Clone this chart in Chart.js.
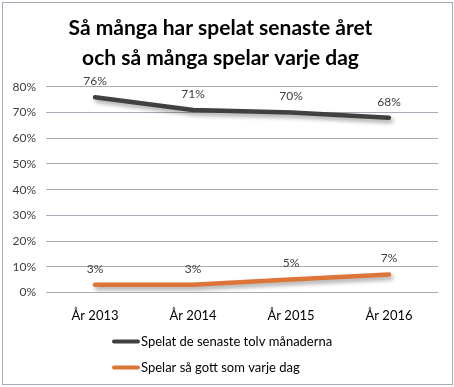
<!DOCTYPE html>
<html>
<head>
<meta charset="utf-8">
<script src="https://cdn.jsdelivr.net/npm/chart.js@4"></script>
<style>
  html, body { margin: 0; padding: 0; background: #fff; }
  #frame {
    position: absolute; left: 2px; top: 2px;
    width: 449px; height: 381px;
    border: 1px solid #a3abb6; background: #fff;
  }
  canvas { display: block; }
</style>
</head>
<body>
<div id="frame"><canvas id="chart" width="449" height="381"></canvas></div>
<script>
// chart values
const years = ['År 2013', 'År 2014', 'År 2015', 'År 2016'];
const spelatTolvManader = [76, 71, 70, 68];
const spelarVarjeDag = [3, 3, 5, 7];
const seriesNames = ['Spelat de senaste tolv månaderna', 'Spelar så gott som varje dag'];
const titleLines = ['Så många har spelat senaste året', 'och så många spelar varje dag'];

const FONT = 'Lato, "Open Sans", sans-serif';

// shadow under lines + value labels above points + stacked legend below axis
const excelLook = {
    id: 'excelLook',
    beforeDatasetsDraw(chart) {
        const ctx = chart.ctx;
        ctx.save();
        ctx.shadowColor = 'rgba(0,0,0,0.35)';
        ctx.shadowBlur = 4;
        ctx.shadowOffsetX = 2;
        ctx.shadowOffsetY = 3;
    },
    afterDatasetsDraw(chart) {
        const ctx = chart.ctx;
        ctx.restore();
        ctx.save();
        ctx.font = '12px ' + FONT;
        ctx.fillStyle = '#404040';
        ctx.textAlign = 'center';
        ctx.textBaseline = 'middle';
        chart.data.datasets.forEach((ds, i) => {
            chart.getDatasetMeta(i).data.forEach((pt, j) => {
                ctx.fillText(ds.data[j] + '%', pt.x, pt.y - 16);
            });
        });
        ctx.restore();
    },
    afterDraw(chart) {
        const ctx = chart.ctx;
        const x0 = 109, y0 = chart.chartArea.bottom + 49;
        ctx.save();
        ctx.font = '13px ' + FONT;
        ctx.textBaseline = 'middle';
        chart.data.datasets.forEach((ds, i) => {
            const y = y0 + i * 26;
            ctx.strokeStyle = ds.borderColor;
            ctx.lineWidth = 4;
            ctx.lineCap = 'round';
            ctx.beginPath();
            ctx.moveTo(x0 + 2, y);
            ctx.lineTo(x0 + 26, y);
            ctx.stroke();
            ctx.fillStyle = '#000';
            ctx.fillText(ds.label, x0 + 29, y);
        });
        ctx.restore();
    }
};

new Chart(document.getElementById('chart'), {
    type: 'line',
    data: {
        labels: years,
        datasets: [
            {
                label: seriesNames[0],
                data: spelatTolvManader,
                borderColor: '#404040',
            },
            {
                label: seriesNames[1],
                data: spelarVarjeDag,
                borderColor: '#dd7438',
            },
        ],
    },
    options: {
        responsive: false,
        animation: false,
        layout: { padding: { left: 0, right: 14, top: 0, bottom: 52 } },
        elements: {
            line: { borderWidth: 4.5, borderCapStyle: 'round', tension: 0 },
            point: { radius: 0, hoverRadius: 0 },
        },
        plugins: {
            legend: { display: false },
            tooltip: { enabled: false },
            title: {
                display: true,
                text: titleLines,
                color: '#000',
                font: { family: FONT, size: 21, weight: 'bold', lineHeight: 1.45 },
                padding: { top: 10, bottom: 13 },
            },
        },
        scales: {
            x: {
                offset: true,
                grid: { display: false },
                border: { display: false },
                ticks: { color: '#000', font: { family: FONT, size: 13 }, padding: 8 },
            },
            y: {
                min: 0,
                max: 80,
                ticks: {
                    stepSize: 10,
                    color: '#404040',
                    font: { family: FONT, size: 12 },
                    padding: 10,
                    callback: v => v + '%',
                },
                grid: { color: '#a5acb6', drawTicks: false },
                border: { display: false },
                afterFit(scale) { scale.width = 43; },
            },
        },
    },
    plugins: [excelLook],
});
</script>
</body>
</html>
